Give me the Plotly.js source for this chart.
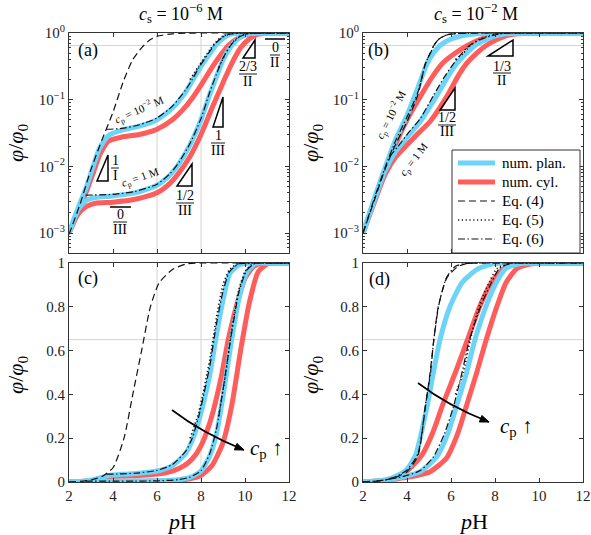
<!DOCTYPE html>
<html><head><meta charset="utf-8">
<script src="https://cdn.plot.ly/plotly-3.0.1.min.js"></script>
<style>html,body{margin:0;padding:0;background:#fff}#plot{width:591px;height:535px}</style>
</head><body><div id="plot"></div>
<script>
// ---------------- DATA ----------------
// c_s = 1e-6 M  (panels a, c)
const s6_plan_cp2_pH  = [2.0,2.5,2.8,3.1,3.4,3.8,4.4,5.2,6.0,6.7,7.3,7.6,7.9,8.4,8.7,9.0,9.3,9.7,10.2,11,12];
const s6_plan_cp2_phi = [0.001,0.0028,0.005,0.01,0.019,0.029,0.035,0.04,0.05,0.075,0.13,0.19,0.28,0.49,0.67,0.83,0.95,0.99,1,1,1];
const s6_cyl_cp2_pH   = [2.0,2.5,2.8,3.1,3.4,3.8,4.4,5.2,6.0,6.7,7.2,7.6,8.0,8.46,8.9,9.24,9.6,10.0,10.4,10.8,11.4,12];
const s6_cyl_cp2_phi  = [0.001,0.0024,0.0043,0.008,0.015,0.024,0.0275,0.03,0.036,0.05,0.072,0.105,0.165,0.29,0.47,0.65,0.8,0.93,0.985,1,1,1];
const s6_plan_cp1_pH  = [2.0,2.4,2.8,3.2,4.0,5.0,6.0,6.6,7.0,7.5,8.0,8.4,8.7,9.0,9.36,9.73,10.1,10.5,11.2,12];
const s6_plan_cp1_phi = [0.001,0.0022,0.0031,0.0034,0.0036,0.004,0.0052,0.0075,0.011,0.021,0.05,0.12,0.22,0.39,0.63,0.84,0.96,1,1,1];
const s6_cyl_cp1_pH   = [2.0,2.4,2.8,3.2,4.0,5.0,6.0,6.6,7.0,7.5,8.0,8.5,9.0,9.4,9.8,10.2,10.6,11.0,11.5,12];
const s6_cyl_cp1_phi  = [0.001,0.0019,0.0025,0.0028,0.0029,0.0032,0.004,0.0056,0.008,0.014,0.03,0.075,0.18,0.35,0.6,0.82,0.96,0.995,1,1];
const s6_eq4_pH  = [2.0,2.5,3.0,3.5,4.0,4.5,4.9,5.3,5.7,6.1,6.7,7.3,8.0,9,10,11,12];
const s6_eq4_phi = [0.00095,0.0027,0.009,0.025,0.065,0.2,0.4,0.6,0.8,0.91,0.97,0.995,1,1,1,1,1];
const s6_eq5_cp2_pH  = [7.5,7.9,8.4,8.7,9.0,9.3,9.7,10.2,11,12];
const s6_eq5_cp2_phi = [0.2,0.32,0.56,0.75,0.9,0.97,0.998,1,1,1];
const s6_eq5_cp1_pH  = [8.8,9.1,9.4,9.7,10.0,10.4,11.2,12];
const s6_eq5_cp1_phi = [0.3,0.48,0.7,0.87,0.96,1,1,1];
const s6_eq6_cp2_pH  = [3.7,4.4,5.2,6.0,6.7,7.3,7.6,7.9,8.4,8.7,9.0,9.3,9.7,10.2,11,12];
const s6_eq6_cp2_phi = [0.036,0.037,0.042,0.053,0.08,0.14,0.2,0.3,0.53,0.72,0.87,0.96,0.995,1,1,1];
const s6_eq6_cp1_pH  = [2.75,4.0,5.0,6.0,6.6,7.0,7.5,8.0,8.4,8.7,9.0,9.36,9.73,10.1,10.5,11.2,12];
const s6_eq6_cp1_phi = [0.0037,0.0038,0.0042,0.0054,0.0078,0.0115,0.022,0.052,0.13,0.24,0.42,0.66,0.87,0.97,1,1,1];

// c_s = 1e-2 M  (panels b, d)
const s2_plan_cp2_pH  = [2.0,2.5,3.0,3.5,4.0,4.4,4.9,5.2,5.5,5.95,6.5,7.2,7.9,8.5,9.5,10.5,12];
const s2_plan_cp2_phi = [0.001,0.0032,0.0095,0.026,0.058,0.125,0.34,0.5,0.65,0.8,0.91,0.972,0.996,1,1,1,1];
const s2_cyl_cp2_pH   = [2.0,2.5,3.0,3.5,4.0,4.68,5.15,5.65,6.2,6.75,7.3,7.86,8.4,9.0,9.7,10.5,12];
const s2_cyl_cp2_phi  = [0.001,0.003,0.0085,0.022,0.05,0.123,0.22,0.36,0.5,0.65,0.8,0.915,0.975,0.995,1,1,1];
const s2_plan_cp1_pH  = [2.0,2.5,3.0,3.5,4.0,4.6,5.35,5.85,6.26,6.71,7.09,7.62,8.08,8.5,9.3,10.3,12];
const s2_plan_cp1_phi = [0.001,0.003,0.0085,0.017,0.027,0.047,0.115,0.22,0.35,0.5,0.65,0.81,0.915,0.976,1,1,1];
const s2_cyl_cp1_pH   = [2.0,2.5,3.0,3.5,4.0,4.5,5.05,5.8,6.3,6.71,7.17,7.6,8.08,8.5,9.0,9.6,10.3,11,12];
const s2_cyl_cp1_phi  = [0.001,0.0028,0.0075,0.014,0.021,0.031,0.047,0.11,0.22,0.35,0.5,0.65,0.8,0.91,0.975,0.995,1,1,1];
const s2_eq4_pH  = [2.0,2.5,3.0,3.5,4.0,4.5,4.82,5.05,5.22,5.42,5.8,6.26,6.7,7.5,9,10.5,12];
const s2_eq4_phi = [0.001,0.003,0.009,0.022,0.047,0.12,0.33,0.5,0.65,0.8,0.93,0.98,0.997,1,1,1,1];
const s2_eq5_pH  = [6.2,6.56,6.88,7.3,7.75,8.1,8.8,9.6,10.5,12];
const s2_eq5_phi = [0.4,0.5,0.65,0.81,0.915,0.976,1,1,1,1];
const s2_eq6_cp2_pH  = [2.0,2.6,3.0,3.5,4.0,4.5,4.85,5.07,5.22,5.45,5.8,6.2,6.6,7.2,8.5,10,12];
const s2_eq6_cp2_phi = [0.001,0.004,0.0095,0.025,0.055,0.13,0.36,0.5,0.65,0.81,0.935,0.985,0.997,1,1,1,1];
const s2_eq6_cp1_pH  = [3.2,3.6,4.0,4.6,5.2,5.7,6.1,6.5,6.84,7.38,7.86,8.2,8.8,9.6,10.5,12];
const s2_eq6_cp1_phi = [0.014,0.02,0.03,0.052,0.115,0.22,0.34,0.5,0.65,0.81,0.915,0.976,1,1,1,1];

// ticks and legend names
const xTicks = [2,4,6,8,10,12];
const xTickText = ['2','4','6','8','10','12'];
const logTicks = [0.001,0.01,0.1,1];
const logTickText = ['10<sup>−3</sup>','10<sup>−2</sup>','10<sup>−1</sup>','10<sup>0</sup>'];
const linTicks = [0,0.2,0.4,0.6,0.8,1];
const linTickText = ['0','0.2','0.4','0.6','0.8','1'];
const legendNames = ['num. plan.','num. cyl.','Eq. (4)','Eq. (5)','Eq. (6)'];

// ---------------- STYLE / LAYOUT ----------------
const W=591, H=535;
const px = x => x/W, py = y => 1 - y/H;
const F = 'Liberation Serif';
const BLUE = '#6CD4F8', RED = '#FF5C5C', INK = '#111';
const styles = {
  plan: {color:BLUE, width:5},
  cyl:  {color:RED,  width:5},
  eq4:  {color:INK, width:1.2, dash:'7px,4px'},
  eq5:  {color:INK, width:1.6, dash:'1.2px,2.6px'},
  eq6:  {color:INK, width:1.2, dash:'7px,2.5px,1.5px,2.5px'}
};
const legKeys = ['plan','cyl','eq4','eq5','eq6'];

const set6 = [
  ['cyl', s6_cyl_cp2_pH, s6_cyl_cp2_phi], ['cyl', s6_cyl_cp1_pH, s6_cyl_cp1_phi],
  ['plan', s6_plan_cp2_pH, s6_plan_cp2_phi], ['plan', s6_plan_cp1_pH, s6_plan_cp1_phi],
  ['eq4', s6_eq4_pH, s6_eq4_phi],
  ['eq5', s6_eq5_cp2_pH, s6_eq5_cp2_phi], ['eq5', s6_eq5_cp1_pH, s6_eq5_cp1_phi],
  ['eq6', s6_eq6_cp2_pH, s6_eq6_cp2_phi], ['eq6', s6_eq6_cp1_pH, s6_eq6_cp1_phi]
];
const set2 = [
  ['cyl', s2_cyl_cp2_pH, s2_cyl_cp2_phi], ['cyl', s2_cyl_cp1_pH, s2_cyl_cp1_phi],
  ['plan', s2_plan_cp2_pH, s2_plan_cp2_phi], ['plan', s2_plan_cp1_pH, s2_plan_cp1_phi],
  ['eq4', s2_eq4_pH, s2_eq4_phi],
  ['eq5', s2_eq5_pH, s2_eq5_phi],
  ['eq6', s2_eq6_cp2_pH, s2_eq6_cp2_phi], ['eq6', s2_eq6_cp1_pH, s2_eq6_cp1_phi]
];

const traces = [];
function addSet(set, xa, ya){
  set.forEach(([k, x, y]) => {
    traces.push({type:'scatter', mode:'lines', x:x, y:y, xaxis:xa, yaxis:ya,
      line:Object.assign({shape:'spline', smoothing:0.6}, styles[k]),
      hoverinfo:'skip', showlegend:false, name:legendNames[legKeys.indexOf(k)]});
  });
}
addSet(set6, 'x', 'y');
addSet(set2, 'x2', 'y2');
addSet(set6, 'x3', 'y3');
addSet(set2, 'x4', 'y4');

const minorLog = [];
for (let e=-4; e<0; e++) for (let m=2; m<10; m++) minorLog.push(m*Math.pow(10,e));

const tickFont = {family:F, size:15, color:'#222'};
function xAxis(dom, anchor, labels){
  return {domain:dom, anchor:anchor, range:[2,12], showline:true, linecolor:'#333', linewidth:1,
    mirror:'ticks', ticks:'inside', ticklen:4, tickcolor:'#333', tickvals:xTicks,
    ticktext: labels ? xTickText : xTicks.map(()=>''), showgrid:false, zeroline:false,
    tickfont:tickFont, fixedrange:true};
}
function yLog(dom, anchor){
  return {domain:dom, anchor:anchor, type:'log', range:[-3.3,0], showline:true, linecolor:'#333', linewidth:1,
    mirror:'ticks', ticks:'inside', ticklen:4, tickcolor:'#333', tickvals:logTicks, ticktext:logTickText,
    minor:{tickvals:minorLog, ticks:'inside', ticklen:2, tickcolor:'#333'},
    showgrid:false, zeroline:false, tickfont:tickFont, fixedrange:true};
}
function yLin(dom, anchor){
  return {domain:dom, anchor:anchor, range:[0,1], showline:true, linecolor:'#333', linewidth:1,
    mirror:'ticks', ticks:'inside', ticklen:4, tickcolor:'#333', tickvals:linTicks, ticktext:linTickText,
    showgrid:false, zeroline:false, tickfont:tickFont, fixedrange:true};
}
const dxA=[69/W, 289/W], dxB=[363/W, 583/W];
const dyT=[1-253/H, 1-33/H], dyB=[1-482/H, 1-263/H];

// grid lines
const G = {color:'#d4d4d4', width:1};
const gLog = (Math.log10(0.65)+3.3)/3.3;
const shapes = [
  {type:'line', layer:'below', xref:'x', yref:'y domain', x0:6, x1:6, y0:0, y1:1, line:G},
  {type:'line', layer:'below', xref:'x', yref:'y domain', x0:8, x1:8, y0:0, y1:1, line:G},
  {type:'line', layer:'below', xref:'x domain', yref:'y domain', x0:0, x1:1, y0:gLog, y1:gLog, line:G},
  {type:'line', layer:'below', xref:'x2 domain', yref:'y2 domain', x0:0, x1:1, y0:gLog, y1:gLog, line:G},
  {type:'line', layer:'below', xref:'x3', yref:'y3 domain', x0:6, x1:6, y0:0, y1:1, line:G},
  {type:'line', layer:'below', xref:'x3', yref:'y3 domain', x0:8, x1:8, y0:0, y1:1, line:G},
  {type:'line', layer:'below', xref:'x3 domain', yref:'y3', x0:0, x1:1, y0:0.65, y1:0.65, line:G},
  {type:'line', layer:'below', xref:'x4 domain', yref:'y4', x0:0, x1:1, y0:0.65, y1:0.65, line:G}
];
const K = {color:'#000', width:1.5};
function tri(xl, xr, yb, yt){
  shapes.push({type:'path', xref:'paper', yref:'paper',
    path:`M ${px(xl)},${py(yb)} L ${px(xr)},${py(yb)} L ${px(xr)},${py(yt)} Z`, line:K});
}
function hbar(x0, x1, y, w){
  shapes.push({type:'line', xref:'paper', yref:'paper', x0:px(x0), x1:px(x1), y0:py(y), y1:py(y), line:{color:'#000', width:w||1}});
}
const annotations = [];
function txt(x, y, text, size, extra){
  annotations.push(Object.assign({xref:'paper', yref:'paper', x:px(x), y:py(y), text:text, showarrow:false,
    xanchor:'center', yanchor:'middle', font:{family:F, size:size, color:'#000'}}, extra||{}));
}
function frac(x, yn, yb, yd, hw, num, den){
  txt(x, yn, num, 14); hbar(x-hw, x+hw, yb, 0.9); txt(x, yd, den, 14);
}
// slope triangles and labels
tri(97,108,181,155);   frac(115,160,168,176,4,'1','I');
hbar(110,131,207,1.5); frac(120,215,222,229,7,'0','III');
tri(177,192,186,164);  frac(185,196,203,210,9,'1/2','III');
tri(213,223,127,97);   frac(218,136,143,150,7,'1','III');
tri(243,255,58,40);    frac(248,67,74,81,9,'2/3','II');
hbar(265,285,39,1.5);  frac(275,48,55,62,5,'0','II');
tri(440,455,110,88);   frac(447,118,125,132,9,'1/2','III');
tri(488,513,56,40);    frac(502,66,73,80,9,'1/3','II');

// curved arrows
function arrow(x0,y0,cx,cy,x1,y1){
  shapes.push({type:'path', xref:'paper', yref:'paper',
    path:`M ${px(x0)},${py(y0)} Q ${px(cx)},${py(cy)} ${px(x1)},${py(y1)}`, line:{color:'#000', width:1.6}});
  let dx=x1-cx, dy=y1-cy; const L=Math.hypot(dx,dy); dx/=L; dy/=L;
  const hl=9, hw=3.5, bx=x1-dx*hl, by=y1-dy*hl;
  shapes.push({type:'path', xref:'paper', yref:'paper', fillcolor:'#000', line:{color:'#000', width:1},
    path:`M ${px(x1)},${py(y1)} L ${px(bx-dy*hw)},${py(by+dx*hw)} L ${px(bx+dy*hw)},${py(by-dx*hw)} Z`});
}
arrow(172,410,202,433,244,450);
arrow(418,383,448,406,489,422);
txt(266,449,'<i>c</i><sub>p</sub> ↑',21);
txt(516,427,'<i>c</i><sub>p</sub> ↑',21);

// manual legend box in panel (b)
shapes.push({type:'rect', xref:'paper', yref:'paper', x0:px(452), x1:px(580), y0:py(253), y1:py(150),
  fillcolor:'#fff', line:{color:'#333', width:1}});
legKeys.forEach((k, i) => {
  const y = 163 + i*19;
  const st = styles[k];
  shapes.push({type:'line', xref:'paper', yref:'paper', x0:px(458), x1:px(495), y0:py(y), y1:py(y),
    line:{color:st.color, width:st.width, dash:st.dash||'solid'}});
  txt(500, y, legendNames[i], 15, {xanchor:'left'});
});

// titles, panel letters, axis labels
txt(181,14,'<i>c</i><sub>s</sub> = 10<sup>−6</sup> M',18);
txt(476,14,'<i>c</i><sub>s</sub> = 10<sup>−2</sup> M',18);
txt(88,50,'(a)',18); txt(378,50,'(b)',18); txt(88,278,'(c)',18); txt(379,279,'(d)',18);
const yl = '<i>φ</i>/<i>φ</i><sub>0</sub>';
txt(17,143,yl,22,{textangle:-90}); txt(312,143,yl,22,{textangle:-90});
txt(17,375,yl,22,{textangle:-90}); txt(312,375,yl,22,{textangle:-90});
txt(181,521,'<i>p</i>H',22); txt(473,521,'<i>p</i>H',22);
// c_p labels along curves
txt(139,110,'<i>c</i><sub>p</sub> = 10<sup>−2</sup> M',11,{textangle:-24});
txt(140,178,'<i>c</i><sub>p</sub> = 1 M',11,{textangle:-19});
txt(391,115,'<i>c</i><sub>p</sub> = 10<sup>−2</sup> M',11,{textangle:-63});
txt(414,160,'<i>c</i><sub>p</sub> = 1 M',11,{textangle:-52});

const layout = {
  width:W, height:H, margin:{l:0,r:0,t:0,b:0}, paper_bgcolor:'#fff', plot_bgcolor:'#fff',
  font:{family:F, color:'#000'},
  xaxis:xAxis(dxA,'y',false), yaxis:yLog(dyT,'x'),
  xaxis2:xAxis(dxB,'y2',false), yaxis2:yLog(dyT,'x2'),
  xaxis3:xAxis(dxA,'y3',true), yaxis3:yLin(dyB,'x3'),
  xaxis4:xAxis(dxB,'y4',true), yaxis4:yLin(dyB,'x4'),
  showlegend:false,
  shapes:shapes, annotations:annotations
};
Plotly.newPlot('plot', traces, layout, {displayModeBar:false, staticPlot:true});
</script></body></html>
